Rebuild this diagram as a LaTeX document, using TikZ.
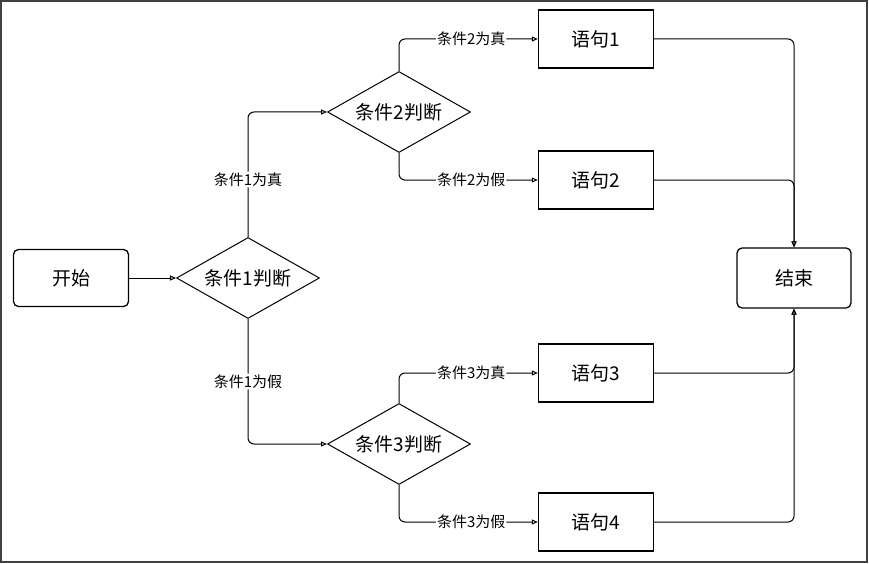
\documentclass[tikz,border=0pt]{standalone}
\usepackage{fontspec}
\setmainfont{Noto Sans CJK SC}
\usetikzlibrary{shapes.geometric,arrows.meta}

\begin{document}
\begin{tikzpicture}[x=1pt,y=-1pt,>={Triangle[open,length=6pt,width=5pt]},
    every node/.style={font=\fontsize{19}{22}\selectfont},
    term/.style={draw,line width=1.3pt,rounded corners=5pt,minimum width=115pt,minimum height=57pt},
    stmt/.style={draw,line width=1.4pt,minimum width=115pt,minimum height=58pt},
    cond/.style={draw,diamond,aspect=1.77,line width=1pt,inner sep=0pt,minimum width=143pt,minimum height=81pt},
    lbl/.style={fill=white,inner sep=1pt,font=\fontsize{15}{18}\selectfont},
    link/.style={->,line width=1pt,rounded corners=6pt}]
    \useasboundingbox (0,0) rectangle (869,564);
    \draw[line width=1.2pt,black!75] (1,1) rectangle (867,562);

    \node[term] (start) at (71,278) {开始};
    \node[cond] (c1) at (248,278) {条件1判断};
    \node[cond] (c2) at (399,112) {条件2判断};
    \node[cond] (c3) at (399,444) {条件3判断};

    \node[stmt] (s1) at (596,39) {语句1};
    \node[stmt] (s2) at (596,180) {语句2};
    \node[stmt] (s3) at (596,373) {语句3};
    \node[stmt] (s4) at (596,522) {语句4};
    \node[term,minimum width=114pt,minimum height=60pt] (end) at (794,278) {结束};

    \draw[link] (start)--(c1);
    \draw[link] (c1.north) |- (c2.west) node[lbl,pos=0.23] {条件1为真};
    \draw[link] (c1.south) |- (c3.west) node[lbl,pos=0.25] {条件1为假};

    \draw[link] (c2.north) |- (s1.west) node[lbl,pos=0.76] {条件2为真};
    \draw[link] (c2.south) |- (s2.west) node[lbl,pos=0.76] {条件2为假};
    \draw[link] (c3.north) |- (s3.west) node[lbl,pos=0.76] {条件3为真};
    \draw[link] (c3.south) |- (s4.west) node[lbl,pos=0.76] {条件3为假};

    \draw[link] (s1.east) -| (end.north);
    \draw[link] (s2.east) -| (end.north);
    \draw[link] (s3.east) -| (end.south);
    \draw[link] (s4.east) -| (end.south);
\end{tikzpicture}
\end{document}
